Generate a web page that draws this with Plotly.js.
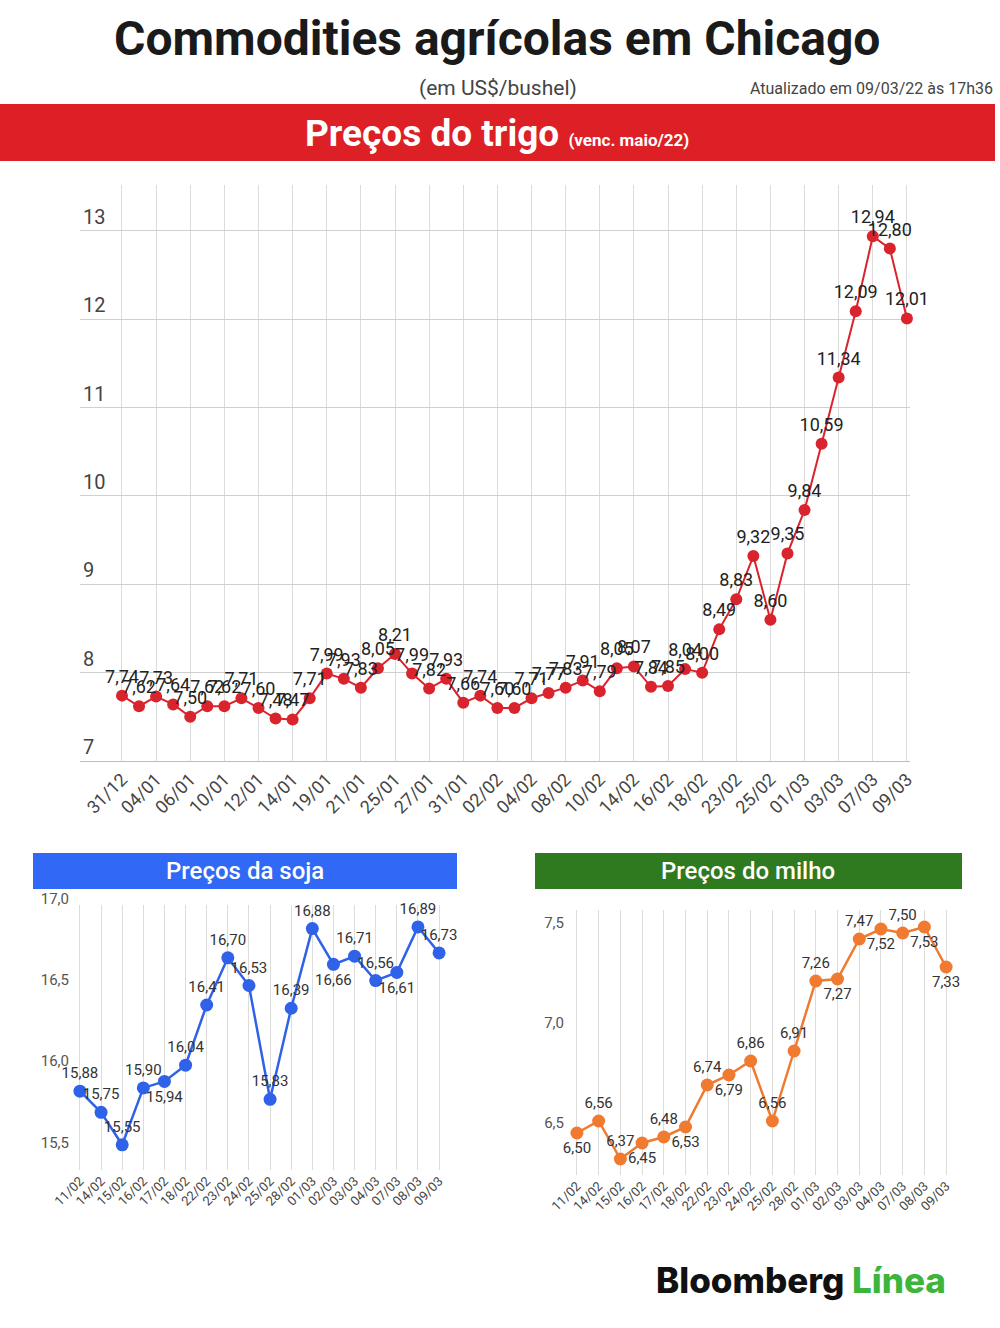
<!DOCTYPE html>
<html>
<head>
<meta charset="utf-8">
<script src="https://cdn.plot.ly/plotly-3.0.1.min.js"></script>
<style>
  html, body { margin: 0; padding: 0; background: #ffffff; }
  #chart { width: 1000px; height: 1328px; }
</style>
</head>
<body>
<div id="chart"></div>
<script>
// ---------- DATA ----------
const wheatDates = ["31/12","03/01","04/01","05/01","06/01","07/01","10/01","11/01","12/01","13/01","14/01",
  "18/01","19/01","20/01","21/01","24/01","25/01","26/01","27/01","28/01","31/01",
  "01/02","02/02","03/02","04/02","07/02","08/02","09/02","10/02","11/02",
  "14/02","15/02","16/02","17/02","18/02","22/02","23/02","24/02","25/02","28/02",
  "01/03","02/03","03/03","04/03","07/03","08/03","09/03"];
const wheatPrices = [7.74,7.62,7.73,7.64,7.50,7.62,7.62,7.71,7.60,7.48,7.47,
  7.71,7.99,7.93,7.83,8.05,8.21,7.99,7.82,7.93,7.66,
  7.74,7.60,7.60,7.71,7.77,7.83,7.91,7.79,8.05,
  8.07,7.84,7.85,8.04,8.00,8.49,8.83,9.32,8.60,9.35,
  9.84,10.59,11.34,12.09,12.94,12.80,12.01];

const shortDates = ["11/02","14/02","15/02","16/02","17/02","18/02","22/02","23/02","24/02","25/02",
  "28/02","01/03","02/03","03/03","04/03","07/03","08/03","09/03"];
const soyPrices = [15.88,15.75,15.55,15.90,15.94,16.04,16.41,16.70,16.53,15.83,
  16.39,16.88,16.66,16.71,16.56,16.61,16.89,16.73];
const cornPrices = [6.50,6.56,6.37,6.45,6.48,6.53,6.74,6.79,6.86,6.56,
  6.91,7.26,7.27,7.47,7.52,7.50,7.53,7.33];

const wheatTicks = [7,8,9,10,11,12,13];
const soyTicks = [15.5,16.0,16.5,17.0];
const cornTicks = [6.5,7.0,7.5];

// ---------- helpers ----------
const fmt = v => v.toFixed(2).replace('.', ',');
const fmt1 = v => v.toFixed(1).replace('.', ',');
const W = 1000, H = 1328;
const px = x => x / W;
const py = y => 1 - y / H;

const wheatLabelTicks = wheatDates.filter((d, i) => i % 2 === 0);

const soyPos = ["top center","top center","top center","top center","bottom center","top center",
  "top center","top center","top center","top center","top center","top center",
  "bottom center","top center","top center","bottom center","top center","top center"];
const cornPos = ["bottom center","top center","top center","bottom center","top center","bottom center",
  "top center","bottom center","top center","top center","top center","top center",
  "bottom center","top center","bottom center","top center","bottom center","bottom center"];

const RED = "#d9232d", BLUE = "#2f62e8", ORANGE = "#f07a30";

const traces = [
  {
    x: wheatDates, y: wheatPrices, type: "scatter", mode: "lines+markers+text",
    xaxis: "x", yaxis: "y",
    line: { color: RED, width: 2 },
    marker: { color: RED, size: 12 },
    text: wheatPrices.map(fmt), textposition: "top center",
    textfont: { family: "Roboto, sans-serif", size: 18, color: "#222" },
    cliponaxis: false, hoverinfo: "skip", showlegend: false
  },
  {
    x: shortDates, y: soyPrices, type: "scatter", mode: "lines+markers+text",
    xaxis: "x2", yaxis: "y2",
    line: { color: BLUE, width: 2.5 },
    marker: { color: BLUE, size: 13 },
    text: soyPrices.map(fmt), textposition: soyPos,
    textfont: { family: "Roboto, sans-serif", size: 15, color: "#333" },
    cliponaxis: false, hoverinfo: "skip", showlegend: false
  },
  {
    x: shortDates, y: cornPrices, type: "scatter", mode: "lines+markers+text",
    xaxis: "x3", yaxis: "y3",
    line: { color: ORANGE, width: 2.5 },
    marker: { color: ORANGE, size: 13 },
    text: cornPrices.map(fmt), textposition: cornPos,
    textfont: { family: "Roboto, sans-serif", size: 15, color: "#333" },
    cliponaxis: false, hoverinfo: "skip", showlegend: false
  }
];

const gridC = "#dcdcdc";
const tickFontBig = { family: "Roboto, sans-serif", size: 18, color: "#444" };
const tickFontSmall = { family: "Roboto, sans-serif", size: 13, color: "#444" };

const layout = {
  width: W, height: H,
  margin: { l: 0, r: 0, t: 0, b: 0 },
  paper_bgcolor: "#ffffff", plot_bgcolor: "rgba(0,0,0,0)",
  showlegend: false,
  xaxis: {
    type: "category", domain: [px(80), px(910)], anchor: "y",
    range: [-2.46, 46.18],
    tickmode: "array", tickvals: wheatLabelTicks, ticktext: wheatLabelTicks,
    tickangle: -45, tickfont: tickFontBig,
    showgrid: true, gridcolor: gridC, gridwidth: 1,
    showline: true, linecolor: "#bdbdbd", linewidth: 1,
    ticks: "", zeroline: false, fixedrange: true
  },
  yaxis: {
    domain: [py(761), py(185)], anchor: "x",
    range: [7, 13.52],
    tickmode: "array", tickvals: wheatTicks, ticktext: wheatTicks.map(String),
    ticklabelposition: "inside top", tickfont: { family: "Roboto, sans-serif", size: 20, color: "#444" },
    showgrid: true, gridcolor: "#d0d0d0", gridwidth: 1,
    zeroline: false, showline: false, ticks: "", fixedrange: true
  },
  xaxis2: {
    type: "category", domain: [px(70), px(445)], anchor: "y2",
    range: [-0.47, 17.28],
    tickmode: "array", tickvals: shortDates, ticktext: shortDates,
    tickangle: -45, tickfont: tickFontSmall,
    showgrid: true, gridcolor: gridC, gridwidth: 1,
    showline: false, ticks: "", zeroline: false, fixedrange: true
  },
  yaxis2: {
    domain: [py(1170), py(905)], anchor: "x2",
    range: [15.395, 17.025],
    tickmode: "array", tickvals: soyTicks, ticktext: soyTicks.map(fmt1),
    ticklabelposition: "outside top", tickfont: { family: "Roboto, sans-serif", size: 15, color: "#555" },
    showgrid: false, zeroline: false, showline: false, ticks: "", fixedrange: true
  },
  xaxis3: {
    type: "category", domain: [px(565), px(955)], anchor: "y3",
    range: [-0.55, 17.41],
    tickmode: "array", tickvals: shortDates, ticktext: shortDates,
    tickangle: -45, tickfont: tickFontSmall,
    showgrid: true, gridcolor: gridC, gridwidth: 1,
    showline: false, ticks: "", zeroline: false, fixedrange: true
  },
  yaxis3: {
    domain: [py(1175), py(910)], anchor: "x3",
    range: [6.29, 7.615],
    tickmode: "array", tickvals: cornTicks, ticktext: cornTicks.map(fmt1),
    ticklabelposition: "outside top", tickfont: { family: "Roboto, sans-serif", size: 15, color: "#555" },
    showgrid: false, zeroline: false, showline: false, ticks: "", fixedrange: true
  },
  shapes: [
    { type: "rect", xref: "paper", yref: "paper", x0: px(0), x1: px(995), y0: py(161), y1: py(104),
      fillcolor: "#dd1f26", line: { width: 0 }, layer: "below" },
    { type: "rect", xref: "paper", yref: "paper", x0: px(33), x1: px(457), y0: py(889), y1: py(853),
      fillcolor: "#3168f5", line: { width: 0 }, layer: "below" },
    { type: "rect", xref: "paper", yref: "paper", x0: px(535), x1: px(962), y0: py(889), y1: py(853),
      fillcolor: "#2f7a1f", line: { width: 0 }, layer: "below" }
  ],
  annotations: [
    { xref: "paper", yref: "paper", x: px(497), y: py(38), xanchor: "center", yanchor: "middle",
      text: "<b>Commodities agrícolas em Chicago</b>", showarrow: false,
      font: { family: "Roboto, sans-serif", size: 48, color: "#1a1a1a" } },
    { xref: "paper", yref: "paper", x: px(498), y: py(88), xanchor: "center", yanchor: "middle",
      text: "(em US$/bushel)", showarrow: false,
      font: { family: "Roboto, sans-serif", size: 21, color: "#444" } },
    { xref: "paper", yref: "paper", x: px(995), y: py(88), xanchor: "right", yanchor: "middle",
      text: "Atualizado em 09/03/22 às 17h36", showarrow: false,
      font: { family: "Roboto, sans-serif", size: 16, color: "#444" } },
    { xref: "paper", yref: "paper", x: px(497), y: py(133), xanchor: "center", yanchor: "middle",
      text: "<b>Preços do trigo</b> <span style='font-size:17px'><b>(venc. maio/22)</b></span>", showarrow: false,
      font: { family: "Roboto, sans-serif", size: 37, color: "#ffffff" } },
    { xref: "paper", yref: "paper", x: px(245), y: py(871), xanchor: "center", yanchor: "middle",
      text: "Preços da soja", showarrow: false,
      font: { family: "Roboto, sans-serif", size: 24, color: "#ffffff", weight: 500 } },
    { xref: "paper", yref: "paper", x: px(748), y: py(871), xanchor: "center", yanchor: "middle",
      text: "Preços do milho", showarrow: false,
      font: { family: "Roboto, sans-serif", size: 24, color: "#ffffff", weight: 500 } },
    { xref: "paper", yref: "paper", x: px(948), y: py(1280), xanchor: "right", yanchor: "middle",
      text: "<span style='color:#111111'>Bloomberg</span> <span style='color:#3db53d'>Línea</span>", showarrow: false,
      font: { family: "Inter, sans-serif", size: 35, color: "#111111", weight: 800 } }
  ]
};

Plotly.newPlot("chart", traces, layout, { staticPlot: true, displayModeBar: false });
</script>
</body>
</html>
